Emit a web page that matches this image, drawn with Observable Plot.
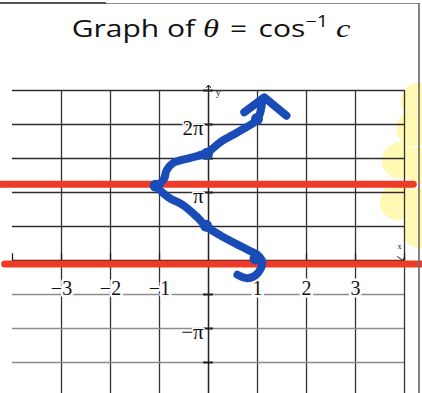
<!DOCTYPE html>
<html>
<head>
<meta charset="utf-8">
<script src="https://cdn.jsdelivr.net/npm/d3@7"></script>
<script src="https://cdn.jsdelivr.net/npm/@observablehq/plot@0.6"></script>
<style>
  html, body { margin: 0; padding: 0; background: #fff; width: 422px; height: 393px; overflow: hidden; position: relative; }
  #title { position: absolute; left: 0; top: 13px; width: 422px; text-align: center; line-height: 30px;
           font-family: "Open Sans", sans-serif; font-size: 24px; color: #111; white-space: nowrap;
           transform: scaleX(1.25); transform-origin: 211px 0; }
  #title i { font-family: "Liberation Serif", serif; font-size: 26px; }
  #title .eq { margin: 0 9px; }
  #title sup { font-size: 16px; vertical-align: 10px; line-height: 0; }
  #chart { position: absolute; left: 0; top: 55px; }
  .page-top { position: absolute; left: 0; top: 3px; width: 419px; height: 1px; background: #8a8a8a; }
  .page-top-dark { position: absolute; left: 0; top: 2px; width: 106px; height: 2px; background: #555; }
  .page-right { position: absolute; left: 418px; top: 3px; width: 2px; height: 390px; background: #6f6f6f; opacity: 0.85; z-index: 2; }
</style>
</head>
<body>
<div class="page-top"></div>
<div class="page-top-dark"></div>
<div id="title">Graph of <i>θ</i><span class="eq">=</span>cos<sup>−1</sup> <i>c</i></div>
<div id="chart"></div>
<div class="page-right"></div>
<script>
// Grid of the worksheet: c on the horizontal axis, θ (in multiples of π) on the vertical axis
const gridC = [-3, -2, -1, 1, 2, 3, 4];
const gridTheta = [2.5, 2, 1.5, 1, 0.5, -0.5, -1, -1.5, -2];
const axisTicksC = [-4, -3, -2, -1, 1, 2, 3, 4];

// Tick labels
const xTicks = [-3, -2, -1, 1, 2, 3];
const xTickLabels = ["−3", "−2", "−1", "1", "2", "3"];
const yTicks = [2, 1, -1, -2];
const yTickLabels = ["2π", "π", "−π", "−2π"];

// Hand-drawn curve θ = cos⁻¹ c (θ in multiples of π), from the lower curl up to the arrow
const sketchC =     [0.59, 0.80, 1.00, 1.10, 1.02, 0.82, 0.55, 0.24, -0.06, -0.22, -0.51, -0.82, -1.02, -0.90, -0.86, -0.73, -0.37, -0.02, 0.24, 0.65, 1.00, 1.10];
const sketchTheta = [-0.21, -0.26, -0.19, -0.03, 0.07, 0.15, 0.25, 0.37, 0.51, 0.63, 0.81, 0.93, 1.08, 1.21, 1.32, 1.43, 1.51, 1.59, 1.74, 1.91, 2.08, 2.37];

// Marked points on the curve
const dotC =     [0.96, -0.05, -1.08, -0.03, 0.99];
const dotTheta = [0.03, 0.51, 1.10, 1.57, 2.08];

// Arrowhead at the top of the curve
const headC =     [0.73, 1.14, 1.59];
const headTheta = [2.18, 2.40, 2.13];

// Horizontal marker lines
const markTheta = [1.12, -0.05];
const markFrom = [-4.25, -4.16];
const markTo = [4.18, 4.45];

// Highlighter strokes at the right edge
const highlightC =     [4.29, 4.20, 3.90, 3.86, 4.33, 4.33, 4.33];
const highlightTheta = [2.35, 1.94, 1.47, 0.86, 1.40, 0.81, 0.44];

const sketch = sketchC.map((c, i) => ({c, theta: sketchTheta[i]}));
const dots = dotC.map((c, i) => ({c, theta: dotTheta[i]}));
const head = headC.map((c, i) => ({c, theta: headTheta[i]}));
const marks = markTheta.map((t, i) => ({theta: t, from: markFrom[i], to: markTo[i]}));
const highlight = highlightC.map((c, i) => ({c, theta: highlightTheta[i]}));

const blue = "#1a4cb8";
const red = "#ee3b27";
const serif = "Liberation Serif";

const chart = Plot.plot({
  width: 422,
  height: 338,
  marginTop: 0, marginRight: 0, marginBottom: 0, marginLeft: 0,
  x: {domain: [-4.245, 4.367], axis: null},
  y: {domain: [-1.956, 3.015], axis: null},
  style: {background: "transparent", overflow: "visible"},
  marks: [
    // highlighter
    Plot.dot(highlight, {x: "c", y: "theta", r: 18, fill: "#fff9b4", stroke: "none"}),
    // grid
    Plot.ruleX(gridC, {x: d => d, y1: -2.2, y2: 2.5, stroke: "#333", strokeWidth: 1.3}),
    Plot.ruleY(gridTheta, {y: d => d, x1: -4, x2: 4, stroke: d => d < 0 ? "#8c8c8c" : "#2e2e2e", strokeWidth: 1.3}),
    // axes
    Plot.ruleY([0], {x1: -4, x2: 4, stroke: "#222", strokeWidth: 1.5}),
    Plot.ruleX([0], {y1: -2.2, y2: 2.52, stroke: "#222", strokeWidth: 1.5}),
    Plot.link([0], {x1: 0, x2: 0, y1: 2.45, y2: 2.56, stroke: "#222", strokeWidth: 1, markerEnd: "arrow"}),
    Plot.link([0], {x1: 3.85, x2: 3.97, y1: 0.06, y2: 0.0, stroke: "#222", strokeWidth: 1, markerEnd: "arrow"}),
    Plot.ruleX(axisTicksC, {x: d => d, y1: 0, y2: 0.1, stroke: "#222", strokeWidth: 1.3}),
    Plot.ruleY(gridTheta, {y: d => d, x1: -0.1, x2: 0.1, stroke: "#222", strokeWidth: 2}),
    // axis names
    Plot.text(["y"], {x: 0.2, y: 2.46, text: d => d, fontFamily: serif, fontSize: 10, fill: "#222"}),
    Plot.text(["x"], {x: 3.9, y: 0.21, text: d => d, fontFamily: serif, fontSize: 8, fill: "#222"}),
    // tick labels
    Plot.text(xTicks, {x: d => d, y: -0.5, dy: -6, text: (d, i) => xTickLabels[i], fontFamily: serif, fontSize: 20,
      fill: "#111", stroke: "white", strokeWidth: 5, paintOrder: "stroke"}),
    Plot.text(yTicks, {x: -0.1, y: d => d, dy: 4, text: (d, i) => yTickLabels[i], textAnchor: "end", fontFamily: serif, fontSize: 21,
      fill: "#111", stroke: "white", strokeWidth: 3, paintOrder: "stroke"}),
    // marker lines
    Plot.link(marks, {x1: "from", x2: "to", y1: "theta", y2: "theta", stroke: red, strokeWidth: 7, strokeLinecap: "round"}),
    // the sketched curve
    Plot.line(sketch, {x: "c", y: "theta", curve: "catmull-rom", stroke: blue, strokeWidth: 8,
      strokeLinecap: "round", strokeLinejoin: "round"}),
    Plot.line(head, {x: "c", y: "theta", stroke: blue, strokeWidth: 8, strokeLinecap: "round", strokeLinejoin: "round"}),
    Plot.dot(dots, {x: "c", y: "theta", r: 6, fill: blue})
  ]
});
document.getElementById("chart").appendChild(chart);
</script>
</body>
</html>
